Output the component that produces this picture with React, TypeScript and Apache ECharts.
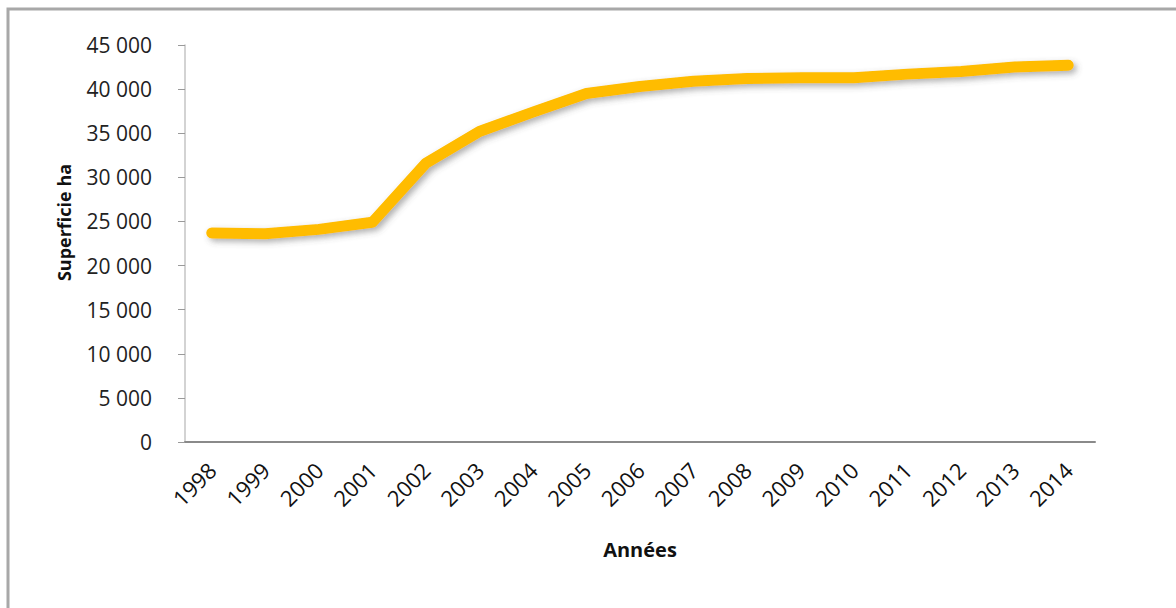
import React, { useEffect, useRef } from "react";
import * as echarts from "echarts";

const years = ["1998","1999","2000","2001","2002","2003","2004","2005","2006","2007","2008","2009","2010","2011","2012","2013","2014"];
const surface = [23700, 23600, 24100, 24900, 31600, 35200, 37400, 39500, 40300, 40900, 41200, 41300, 41300, 41700, 42000, 42500, 42700];
const yMin = 0;
const yMax = 45000;
const yStep = 5000;

const FONT = "'Open Sans', 'Liberation Sans', sans-serif";

function fmt(v: number): string {
  const s = String(Math.round(v));
  return s.replace(/\B(?=(\d{3})+(?!\d))/g, " ");
}

export default function App() {
  const ref = useRef<HTMLDivElement>(null);
  useEffect(() => {
    if (!ref.current) return;
    const chart = echarts.init(ref.current, undefined, { renderer: "svg" });
    chart.setOption({
      animation: false,
      backgroundColor: "#ffffff",
      graphic: [
        {
          type: "rect",
          shape: { x: 8, y: 9, width: 1200, height: 700 },
          style: { fill: "none", stroke: "#a8a8a8", lineWidth: 3 },
          silent: true,
        },
      ],
      grid: { left: 185, right: 81, top: 45, bottom: 166, containLabel: false },
      xAxis: {
        type: "category",
        data: years,
        boundaryGap: true,
        name: "Années",
        nameLocation: "middle",
        nameGap: 97,
        nameTextStyle: { fontFamily: FONT, fontWeight: "bold", fontSize: 20, color: "#111" },
        axisLine: { show: true, lineStyle: { color: "#8a8a8a", width: 2 } },
        axisTick: { show: false },
        axisLabel: { rotate: 45, margin: 24, fontFamily: FONT, fontSize: 22, color: "#111", interval: 0 },
        splitLine: { show: false },
      },
      yAxis: {
        type: "value",
        min: yMin,
        max: yMax,
        interval: yStep,
        name: "Superficie ha",
        nameLocation: "middle",
        nameGap: 112,
        nameTextStyle: {
          fontFamily: FONT,
          fontWeight: "bold",
          fontSize: 18,
          color: "#111",
          padding: [0, 0, 0, 42],
        },
        axisLine: { show: true, lineStyle: { color: "#c4c4c4", width: 1.5 } },
        axisTick: { show: true, length: 7, lineStyle: { color: "#9a9a9a" } },
        axisLabel: { margin: 33, fontFamily: FONT, fontSize: 21, color: "#222", formatter: (v: number) => fmt(v) },
        splitLine: { show: false },
      },
      series: [
        {
          type: "line",
          data: surface,
          symbol: "none",
          smooth: false,
          lineStyle: {
            color: "#FFBC00",
            width: 11,
            cap: "round",
            join: "round",
            shadowColor: "rgba(80,80,80,0.45)",
            shadowBlur: 6,
            shadowOffsetX: 3,
            shadowOffsetY: 3,
          },
        },
      ],
    });
    return () => chart.dispose();
  }, []);
  return (
    <div
      ref={ref}
      style={{ position: "fixed", left: 0, top: 0, width: 1176, height: 608, background: "#fff" }}
    />
  );
}
